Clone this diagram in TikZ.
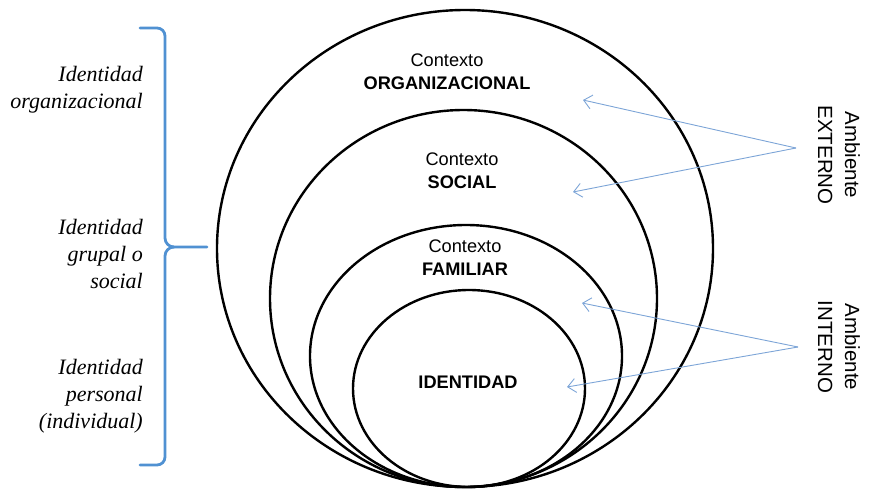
\documentclass[tikz,border=0pt]{standalone}
\usepackage{fontspec}
\setmainfont{Liberation Serif}
\setsansfont{Liberation Sans}
\usetikzlibrary{arrows.meta}
\definecolor{bracecol}{RGB}{80,145,210}
\definecolor{arrowcol}{RGB}{125,165,215}
\begin{document}
\begin{tikzpicture}[x=1pt,y=-1pt,
  ring/.style={draw=black,line width=2.4pt},
  ctx/.style={font=\sffamily\fontsize{18.2}{23}\selectfont,align=center,inner sep=0pt},
  lefttext/.style={font=\rmfamily\itshape\fontsize{22}{27}\selectfont,align=right,anchor=east,inner sep=0pt},
  amb/.style={font=\sffamily\fontsize{20.5}{27}\selectfont,align=center,rotate=-90,inner sep=0pt},
  ray/.style={draw=arrowcol,line width=0.9pt,-{Straight Barb[length=8pt,width=14pt]}},
  bracestyle/.style={draw=bracecol,line width=2.8pt,line cap=round,line join=round}]
\useasboundingbox (0,0) rectangle (870,493);
% ellipses
\draw[ring] (465,248.5) ellipse [x radius=248,y radius=238.5];
\draw[ring] (463.5,298.5) ellipse [x radius=193.5,y radius=188.5];
\draw[ring] (466,356) ellipse [x radius=156,y radius=131];
\draw[ring] (469,388.5) ellipse [x radius=116,y radius=98.5];
% context labels
\node[ctx] (org) at (447,72) {Contexto\\\textbf{ORGANIZACIONAL}};
\node[ctx] (soc) at (462,171) {Contexto\\\textbf{SOCIAL}};
\node[ctx] (fam) at (465,258) {Contexto\\\textbf{FAMILIAR}};
\node[ctx] (ide) at (468,382) {\textbf{IDENTIDAD}};
% left labels
\node[lefttext] (l1) at (143,90) {Identidad\\organizacional};
\node[lefttext] (l2) at (143,254) {Identidad\\grupal o\\social};
\node[lefttext] (l3) at (143,396) {Identidad\\personal\\(individual)};
% brace
\coordinate (btop) at (140,28);
\coordinate (bbot) at (140,465);
\coordinate (btip) at (207,247);
\draw[bracestyle] (btop) -- (157,28) to[out=0,in=90] (165,36) -- (165,238)
  to[out=-90,in=180] (174,247) -- (btip);
\draw[bracestyle] (bbot) -- (157,465) to[out=0,in=-90] (165,457) -- (165,256)
  to[out=90,in=180] (174,247);
% ambient labels
\node[amb] (ext) at (839,155) {Ambiente\\EXTERNO};
\node[amb] (int) at (839,347) {Ambiente\\INTERNO};
% arrows
\coordinate (ea) at (796,148);
\coordinate (e1) at (583,100);
\coordinate (e2) at (573,192);
\coordinate (ia) at (798,347);
\coordinate (i1) at (582,303);
\coordinate (i2) at (567,387);
\draw[ray] (ea) -- (e1);
\draw[ray] (ea) -- (e2);
\draw[ray] (ia) -- (i1);
\draw[ray] (ia) -- (i2);
\end{tikzpicture}
\end{document}
